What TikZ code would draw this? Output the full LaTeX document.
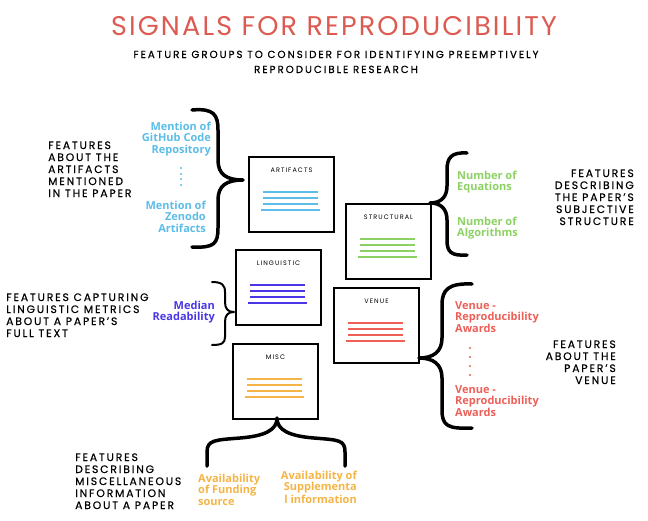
\documentclass[tikz,border=0pt]{standalone}
\usepackage{fontspec}
\setmainfont{Open Sans}
\newfontfamily\capsfont[LetterSpace=17, FakeBold=0.4]{Poppins}
\newfontfamily\subfont[LetterSpace=19, FakeBold=0.4]{Poppins}
\newfontfamily\titlefont[LetterSpace=8]{Poppins}
\newfontfamily\cardfont[LetterSpace=16]{Poppins}
\definecolor{titlered}{HTML}{DB5B52}
\definecolor{cblue}{HTML}{5BBDE8}
\definecolor{cgreen}{HTML}{8CD163}
\definecolor{cviolet}{HTML}{4A36E6}
\definecolor{ccoral}{HTML}{EE5F58}
\definecolor{camber}{HTML}{F5B445}
\tikzset{
  card/.style={draw=black, line width=2pt, minimum width=85pt, minimum height=75pt, inner sep=0pt, anchor=north west},
  cardtitle/.style={font=\cardfont\fontsize{6.5}{8}\selectfont, inner sep=0pt, anchor=base},
  blacklab/.style={font=\capsfont\fontsize{10.8}{12}\selectfont, inner sep=0pt},
  collab/.style={font=\bfseries\fontsize{11}{11.5}\selectfont, inner sep=0pt},
  bracethick/.style={line width=3.5pt, line cap=round, line join=round},
  bracethin/.style={line width=2pt, line cap=round, line join=round},
  cardrule/.style={line width=1.25pt},
}
\begin{document}
\begin{tikzpicture}[x=1pt,y=-1pt]
\useasboundingbox (0,0) rectangle (648,520);

% title
\node[font=\titlefont\fontsize{27}{30}\selectfont, text=titlered, inner sep=0pt, anchor=base] (title) at (334,35) {SIGNALS FOR REPRODUCIBILITY};
\node[font=\subfont\fontsize{10.3}{15}\selectfont, align=center, inner sep=0pt, anchor=base] (sub) at (336,73) {FEATURE GROUPS TO CONSIDER FOR IDENTIFYING PREEMPTIVELY\\REPRODUCIBLE RESEARCH};

% cards
\node[card] (art) at (248,156) {};
\node[card] (str) at (345,203) {};
\node[card] (lin) at (235,249) {};
\node[card] (ven) at (333,287) {};
\node[card] (misc) at (232,343) {};

\node[cardtitle] (artt) at ([yshift=-16.5pt]art.north) {ARTIFACTS};
\node[cardtitle] (strt) at ([yshift=-16.5pt]str.north) {STRUCTURAL};
\node[cardtitle] (lint) at ([yshift=-16.5pt]lin.north) {LINGUISTIC};
\node[cardtitle] (vent) at ([yshift=-16.5pt]ven.north) {VENUE};
\node[cardtitle] (misct) at ([yshift=-16.5pt]misc.north) {MISC};

% coloured rules inside the cards
\draw[cardrule, draw=cblue] (263,192) -- (318,192) (263,198) -- (318,198) (263,204) -- (318,204) (261,210) -- (320,210);
\draw[cardrule, draw=cgreen] (360,239) -- (415,239) (360,245) -- (415,245) (360,251) -- (415,251) (358,257) -- (417,257);
\draw[cardrule, draw=cviolet] (250,285) -- (305,285) (250,291) -- (305,291) (250,297) -- (305,297) (248,303) -- (307,303);
\draw[cardrule, draw=ccoral] (348,323) -- (403,323) (348,329) -- (403,329) (348,335) -- (403,335) (346,341) -- (405,341);
\draw[cardrule, draw=camber] (247,379) -- (302,379) (247,385) -- (302,385) (247,391) -- (302,391) (245,397) -- (304,397);

% braces
\draw[bracethick] (192,110) .. controls (214,108) and (218,115) .. (218,130) -- (218,160) .. controls (218,174) and (226,180) .. (243,180) .. controls (226,180) and (218,186) .. (218,200) -- (218,228) .. controls (218,244) and (214,248) .. (192,247);
\draw[bracethick] (467,153) .. controls (451,152) and (447,158) .. (447,170) -- (447,186) .. controls (447,197) and (441,203) .. (430,203) .. controls (441,203) and (447,209) .. (447,220) -- (447,240) .. controls (447,252) and (451,256) .. (467,255);
\draw[bracethin] (212,282) .. controls (222,282) and (225,285) .. (225,292) -- (225,302) .. controls (225,309) and (228,312) .. (234,312) .. controls (228,312) and (225,315) .. (225,322) -- (225,337) .. controls (225,343) and (222,345) .. (212,345);
\draw[bracethick] (472,284) .. controls (448,283) and (442,290) .. (442,305) -- (442,338) .. controls (442,352) and (433,358) .. (419,358) .. controls (433,358) and (442,364) .. (442,378) -- (442,410) .. controls (442,426) and (448,429) .. (472,428);
\draw[bracethick] (207,466) -- (207,452) .. controls (207,440) and (215,440) .. (240,438) .. controls (265,436) and (277,430) .. (277,418) .. controls (277,430) and (289,436) .. (314,438) .. controls (339,440) and (345,440) .. (345,452) -- (345,466);

% artifacts labels
\node[collab, text=cblue, align=right, anchor=base east] (gh) at (211,153) {Mention of\\GitHub Code\\Repository};
\foreach \yy in {168,174,179,185} \fill[cblue] (181,\yy) circle (1.1pt);
\node[collab, text=cblue, align=right, anchor=base east] (zen) at (206,232) {Mention of\\Zenodo\\Artifacts};
\node[blacklab, align=left, anchor=base west] (artd) at (48,197) {FEATURES\\ABOUT THE\\ARTIFACTS\\MENTIONED\\IN THE PAPER};

% structural labels
\node[collab, text=cgreen, align=left, anchor=base west, font=\bfseries\fontsize{11}{11}\selectfont] (eq) at (457,190) {Number of\\Equations};
\node[collab, text=cgreen, align=left, anchor=base west, font=\bfseries\fontsize{11}{11}\selectfont] (alg) at (457,236) {Number of\\Algorithms};
\node[blacklab, align=right, anchor=base east] (strd) at (634,225) {FEATURES\\DESCRIBING\\THE PAPER’S\\SUBJECTIVE\\STRUCTURE};

% linguistic labels
\node[collab, text=cviolet, align=right, anchor=base east, font=\bfseries\fontsize{11}{11}\selectfont] (med) at (215,320) {Median\\Readability};
\node[blacklab, align=left, anchor=base west] (lind) at (6,337) {FEATURES CAPTURING\\LINGUISTIC METRICS\\ABOUT A PAPER’S\\FULL TEXT};

% venue labels
\node[collab, text=ccoral, align=left, anchor=base west] (va) at (455,332) {Venue -\\Reproducibility\\Awards};
\foreach \yy in {348,357,366,375} \fill[ccoral] (470,\yy) circle (1.1pt);
\node[collab, text=ccoral, align=left, anchor=base west] (vb) at (455,416) {Venue -\\Reproducibility\\Awards};
\node[blacklab, align=right, anchor=base east] (vend) at (616,384) {FEATURES\\ABOUT THE\\PAPER’S\\VENUE};

% misc labels
\node[blacklab, align=left, anchor=base west] (miscd) at (75,509) {FEATURES\\DESCRIBING\\MISCELLANEOUS\\INFORMATION\\ABOUT A PAPER};
\node[collab, text=camber, align=left, anchor=base west] (fund) at (198,505) {Availability\\of Funding\\source};
\node[collab, text=camber, align=right, anchor=base east, font=\bfseries\fontsize{11}{11}\selectfont] (supp) at (357,503) {Availability of\\Supplementa\\l information};
\end{tikzpicture}
\end{document}
